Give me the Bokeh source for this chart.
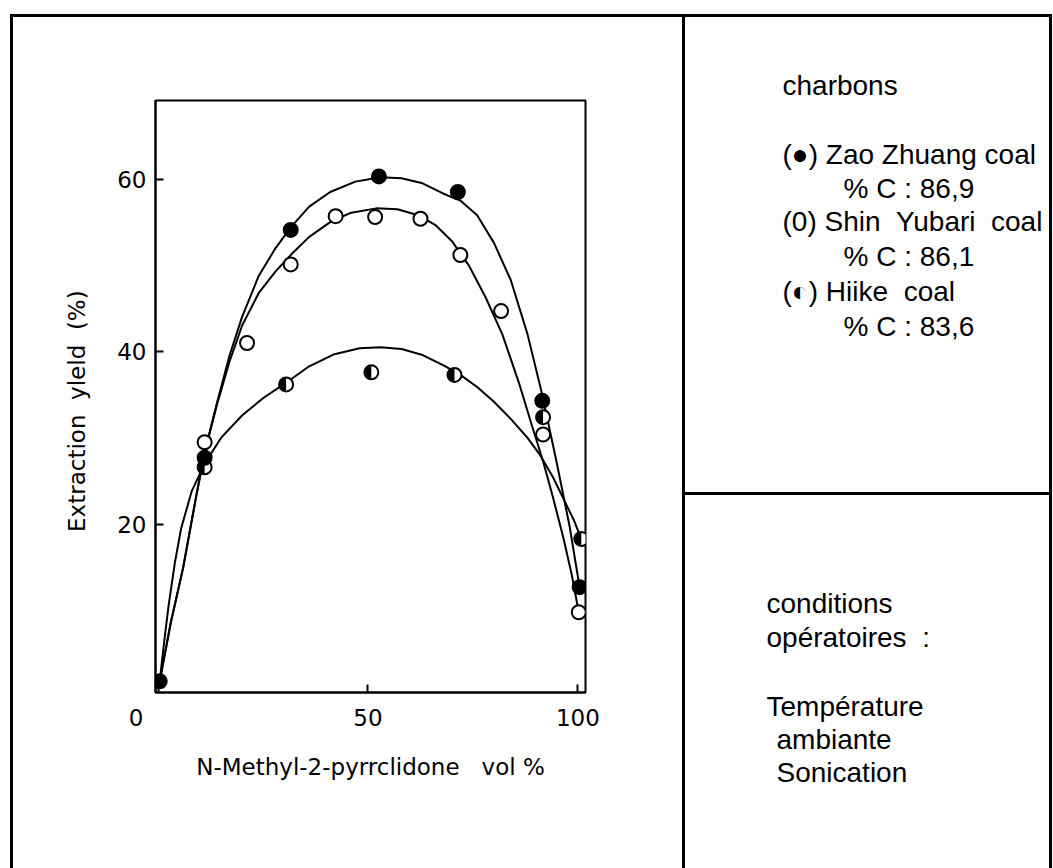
import math
from bokeh.plotting import figure
from bokeh.layouts import row, column
from bokeh.models import Range1d, FixedTicker, Spacer
from bokeh.core.properties import value
from bokeh.embed import file_html
from bokeh.resources import INLINE

# ---------------- data ----------------
zao_x = [0.4, 11.1, 31.6, 52.6, 71.4, 91.5, 100.4]
zao_y = [1.8, 27.7, 54.1, 60.3, 58.5, 34.3, 12.7]
shin_x = [11.1, 21.2, 31.6, 42.3, 51.7, 62.5, 72.0, 81.7, 91.7, 100.2]
shin_y = [29.5, 41.0, 50.1, 55.7, 55.6, 55.4, 51.2, 44.7, 30.4, 9.8]
hiike_x = [11.1, 30.5, 50.8, 70.6, 91.7, 100.8]
hiike_y = [26.6, 36.2, 37.6, 37.3, 32.4, 18.3]

# hand-drawn fitted curves
zao_cx = [0.4, 3, 6, 9, 11.1, 14, 17, 20, 24, 28, 31.6, 36, 41, 47, 53, 58, 63, 68, 72, 76, 80, 84, 88, 91.5, 95, 98, 100.4]
zao_cy = [1.8, 8.5, 15, 23, 28.3, 34, 39.5, 44, 48.8, 52, 54.4, 56.8, 58.5, 59.7, 60.2, 60.1, 59.5, 58.3, 57.5, 55.8, 52.6, 48.3, 42.0, 35.0, 27.0, 19.8, 12.7]
shin_cx = [0.4, 3, 6, 9, 11.1, 14, 17, 20, 24, 28, 32, 36, 41, 46, 52, 57, 62, 66, 70, 74, 78, 82, 86, 89, 91.7, 94, 96.5, 98.5, 100.2]
shin_cy = [1.8, 8.5, 15, 23, 28.3, 33.8, 38.8, 43, 46.8, 49.3, 51.4, 53.3, 55, 56.1, 56.6, 56.5, 55.8, 54.7, 52.8, 50, 46.3, 42.0, 36.3, 31.5, 27.3, 23.2, 18.5, 14.2, 9.8]
hiike_cx = [0.4, 1.5, 2.5, 4, 5.5, 8, 11.1, 15, 20, 25, 30.5, 36, 42, 48, 53, 58, 63, 68, 72, 76, 80, 84, 88, 91, 94, 97, 99, 100.8]
hiike_cy = [1.8, 6.5, 10.5, 15.5, 19.5, 23.8, 27, 30, 32.6, 34.6, 36.4, 38.3, 39.7, 40.4, 40.5, 40.3, 39.6, 38.4, 37.3, 35.9, 34.2, 32.2, 30.0, 28.0, 25.5, 22.5, 20.5, 18.3]

x_ticks = [0, 50, 100]
x_tick_labels = {0: "0\u2007\u2007\u2007", 50: "50", 100: "100"}
y_ticks = [20, 40, 60]
x_title = "N-Methyl-2-pyrrclidone\u00a0\u00a0\u00a0vol\u00a0%"
y_title = "Extraction\u00a0\u00a0yleld\u00a0\u00a0(%)\u00a0\u00a0\u00a0\u00a0"

legend_lines = ["charbons", "(\u25cf) Zao Zhuang coal", "% C : 86,9",
                "(0) Shin\u00a0\u00a0Yubari\u00a0\u00a0coal", "% C : 86,1",
                "(\u25d0) Hiike\u00a0\u00a0coal", "% C : 83,6"]
legend_px = [97, 97, 158, 97, 158, 97, 158]
legend_py = [68, 137, 171, 204, 239, 274, 309]

cond_lines = ["conditions", "op\u00e9ratoires\u00a0\u00a0:", "Temp\u00e9rature", "ambiante", "Sonication"]
cond_px = [81, 81, 81, 91, 91]
cond_py = [108, 142, 211, 244, 277]

CHART_FONT = "DejaVu Sans"
TEXT_FONT = "Liberation Sans"


def black(w, h):
    return Spacer(width=w, height=h, styles={"background-color": "black"})


# ---------------- chart ----------------
p = figure(width=669, height=851, output_backend="svg", toolbar_location=None,
           x_range=Range1d(-0.6, 101.8), y_range=Range1d(0.5, 69.1),
           min_border_left=142, min_border_right=97, min_border_top=83,
           min_border_bottom=176, background_fill_color="white",
           border_fill_color="white")
p.grid.visible = False
p.outline_line_color = "black"
p.outline_line_width = 2

for ax in (p.xaxis[0], p.yaxis[0]):
    ax.axis_line_color = "black"
    ax.axis_line_width = 2
    ax.major_tick_in = 8
    ax.major_tick_out = 0
    ax.major_tick_line_width = 2
    ax.minor_tick_line_color = None
    ax.major_label_text_font = CHART_FONT
    ax.major_label_text_font_size = "23px"
    ax.major_label_text_color = "black"
    ax.axis_label_text_font = CHART_FONT
    ax.axis_label_text_font_size = "23px"
    ax.axis_label_text_font_style = "normal"
    ax.axis_label_text_color = "black"

p.xaxis.ticker = FixedTicker(ticks=x_ticks)
p.xaxis.major_label_overrides = x_tick_labels
p.yaxis.ticker = FixedTicker(ticks=y_ticks)
p.xaxis.major_label_standoff = 12
p.yaxis.major_label_standoff = 9
p.xaxis.axis_label = x_title
p.yaxis.axis_label = y_title
p.xaxis.axis_label_standoff = 20
p.yaxis.axis_label_standoff = 24

# curves
for cx, cy in ((zao_cx, zao_cy), (shin_cx, shin_cy), (hiike_cx, hiike_cy)):
    p.line(cx, cy, line_color="black", line_width=2)

# markers
p.scatter(shin_x, shin_y, marker="circle", size=14, fill_color="white",
          line_color="black", line_width=2)
p.scatter(hiike_x, hiike_y, marker="circle", size=14, fill_color="white",
          line_color="black", line_width=2)
p.wedge(x=hiike_x, y=hiike_y, radius=6.5, radius_units="screen",
        start_angle=math.pi / 2, end_angle=3 * math.pi / 2,
        fill_color="black", line_color=None)
p.scatter(zao_x, zao_y, marker="circle", size=14, fill_color="black",
          line_color="black", line_width=2)

# ---------------- right panels ----------------
rt = figure(width=364, height=475, output_backend="svg", toolbar_location=None,
            x_range=Range1d(0, 364), y_range=Range1d(475, 0),
            x_axis_location=None, y_axis_location=None, min_border=0,
            outline_line_color=None)
rt.grid.visible = False
rt.text(x=legend_px, y=legend_py, text=legend_lines,
        text_font=value(TEXT_FONT), text_font_size="28px",
        text_baseline="middle", text_align="left", text_color="black")

rb = figure(width=364, height=373, output_backend="svg", toolbar_location=None,
            x_range=Range1d(0, 364), y_range=Range1d(373, 0),
            x_axis_location=None, y_axis_location=None, min_border=0,
            outline_line_color=None)
rb.grid.visible = False
rb.text(x=cond_px, y=cond_py, text=cond_lines,
        text_font=value(TEXT_FONT), text_font_size="28px",
        text_baseline="middle", text_align="left", text_color="black")

right_col = column(rt, black(364, 3), rb, spacing=0)
main_row = row(Spacer(width=10, height=851), black(3, 851), p, black(3, 851),
               right_col, black(3, 851), spacing=0)
top_row = row(Spacer(width=10, height=3), black(1042, 3), spacing=0)
layout = column(Spacer(width=1052, height=14), top_row, main_row, spacing=0)

open("out.html", "w").write(file_html(layout, INLINE))
